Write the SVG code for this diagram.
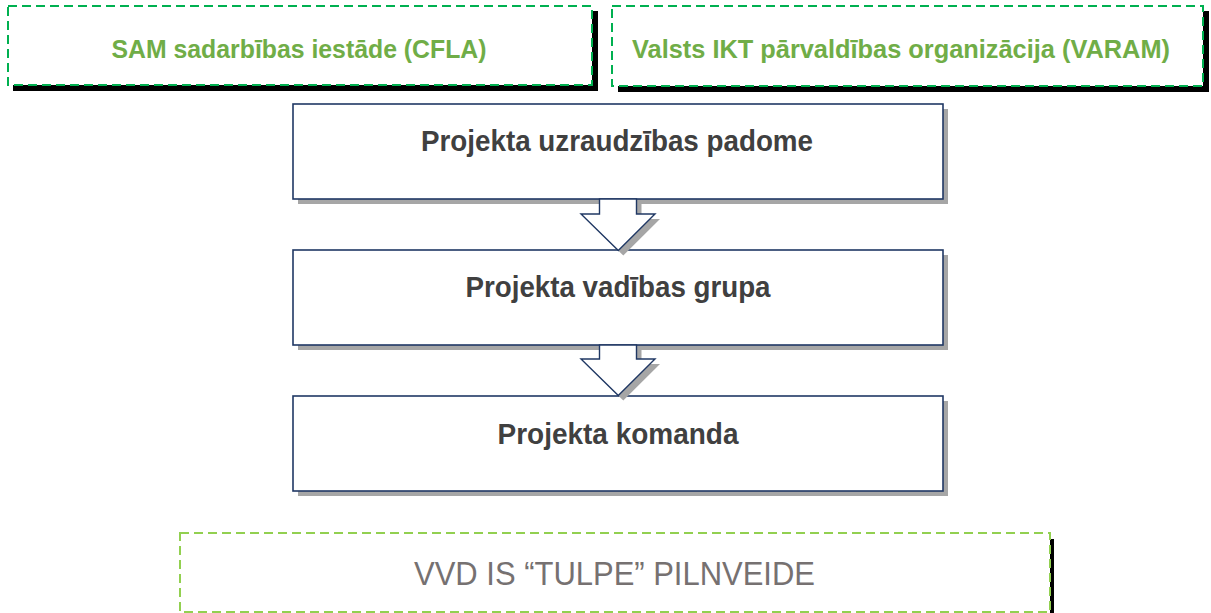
<svg xmlns="http://www.w3.org/2000/svg" width="1211" height="613" viewBox="0 0 1211 613">
<defs>
<style>
.dashbox{fill:#ffffff;stroke:#00B050;stroke-width:2;stroke-dasharray:9 5}
.dashbox2{fill:#ffffff;stroke:#92D050;stroke-width:2;stroke-dasharray:9 5}
.blk{fill:#000000}
.shd{fill:#A6A6A6}
.box{fill:#ffffff;stroke:#203864;stroke-width:1.6}
.arr{fill:#ffffff;stroke:#203864;stroke-width:1.4;stroke-linejoin:miter}
.gtxt{font-family:"Liberation Sans",Arial,sans-serif;font-weight:bold;font-size:26px;fill:#70AD47;text-anchor:middle}
.btxt{font-family:"Liberation Sans",Arial,sans-serif;font-weight:bold;font-size:29px;fill:#404040;text-anchor:middle}
.ltxt{font-family:"Liberation Sans",Arial,sans-serif;font-size:34px;fill:#767171;text-anchor:middle}
</style>
</defs>
<rect width="1211" height="613" fill="#ffffff"/>

<g id="cfla">
<rect class="blk" x="13" y="11" width="585" height="80"/>
<rect class="dashbox" x="8" y="6" width="584" height="79"/>
<text class="gtxt" x="299" y="58" textLength="375" lengthAdjust="spacingAndGlyphs">SAM sadarbības iestāde (CFLA)</text>
</g>

<g id="varam">
<rect class="blk" x="618" y="11" width="591" height="81"/>
<rect class="dashbox" x="612" y="6" width="591" height="80"/>
<text class="gtxt" x="901" y="58" textLength="538" lengthAdjust="spacingAndGlyphs">Valsts IKT pārvaldības organizācija (VARAM)</text>
</g>

<g id="padome">
<rect class="shd" x="298" y="109" width="650" height="95"/>
<rect class="box" x="293" y="104" width="650" height="95"/>
<text class="btxt" x="617" y="151" textLength="392" lengthAdjust="spacingAndGlyphs">Projekta uzraudzības padome</text>
</g>

<g id="vadiba">
<rect class="shd" x="298" y="255" width="650" height="95"/>
<rect class="box" x="293" y="250" width="650" height="95"/>
<text class="btxt" x="618" y="297" textLength="305" lengthAdjust="spacingAndGlyphs">Projekta vadības grupa</text>
</g>

<g id="komanda">
<rect class="shd" x="298" y="401" width="650" height="95"/>
<rect class="box" x="293" y="396" width="650" height="95"/>
<text class="btxt" x="618" y="444" textLength="241" lengthAdjust="spacingAndGlyphs">Projekta komanda</text>
</g>

<g id="connectors">
<polygon class="shd" points="604.5,204 641.5,204 641.5,219 660,219 623.3,255.5 586,219 604.5,219"/>
<polygon class="arr" points="599.5,199 636.5,199 636.5,214 655,214 618.3,250.5 581,214 599.5,214"/>
<polygon class="shd" points="604.5,350 641.5,350 641.5,364 660,364 623.3,400.5 586,364 604.5,364"/>
<polygon class="arr" points="599.5,345 636.5,345 636.5,359 655,359 618.3,395.5 581,359 599.5,359"/>
</g>

<g id="tulpe">
<rect class="blk" x="1050" y="539" width="4" height="74"/>
<rect class="dashbox2" x="180" y="533" width="870" height="79"/>
<text class="ltxt" x="614.5" y="585" textLength="401" lengthAdjust="spacingAndGlyphs">VVD IS “TULPE” PILNVEIDE</text>
</g>
</svg>
